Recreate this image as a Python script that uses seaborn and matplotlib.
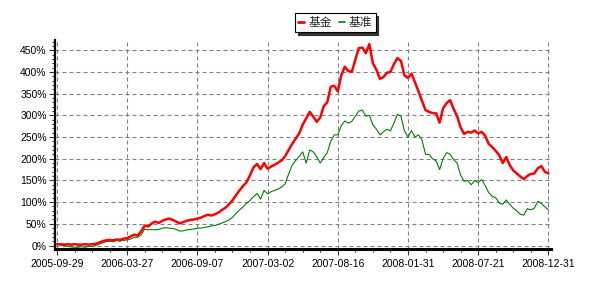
import numpy as np
import pandas as pd
import matplotlib
matplotlib.use("Agg")
import matplotlib.pyplot as plt
from matplotlib.ticker import MultipleLocator, FixedLocator
import seaborn as sns

# ---- data (percent return, sampled along the trading-day axis) ----
fund = [3, 3, 2, 3, 2, 3, 2, 2, 3, 2,
        3, 4, 7, 10, 12, 13, 12, 14, 13, 16,
        17, 21, 25, 23, 33, 46, 44, 51, 55, 52,
        57, 60, 62, 59, 55, 51, 54, 57, 59, 60,
        62, 64, 68, 71, 69, 72, 76, 82, 87, 95,
        104, 116, 127, 137, 146, 162, 180, 188, 176, 190,
        177, 182, 186, 191, 196, 206, 220, 234, 246, 258,
        278, 293, 308, 297, 285, 295, 321, 330, 366, 368,
        355, 392, 412, 402, 400, 428, 455, 456, 443, 464,
        420, 405, 384, 388, 398, 400, 418, 432, 425, 392,
        386, 396, 376, 355, 333, 312, 308, 305, 305, 283,
        316, 328, 335, 315, 298, 272, 257, 262, 260, 265,
        258, 262, 253, 234, 227, 218, 208, 190, 204, 185,
        173, 166, 159, 153, 160, 165, 166, 178, 183, 170,
        166]
bench = [2, 1, 0, -2, -3, -4, -4, -3, -4, -2,
         -2, 0, 3, 6, 9, 10, 9, 11, 10, 12,
         13, 15, 19, 19, 25, 38, 36, 37, 36, 37,
         40, 41, 40, 39, 37, 33, 34, 36, 37, 38,
         40, 40, 42, 43, 45, 46, 49, 52, 55, 59,
         65, 74, 82, 89, 97, 104, 113, 120, 107, 127,
         119, 124, 127, 130, 135, 142, 165, 185, 196, 205,
         216, 190, 220, 216, 205, 190, 203, 214, 240, 255,
         255, 276, 287, 282, 286, 298, 310, 312, 298, 300,
         278, 268, 255, 262, 268, 264, 282, 302, 298, 264,
         250, 265, 250, 255, 243, 210, 210, 200, 195, 175,
         200, 214, 210, 198, 190, 162, 148, 150, 140, 150,
         145, 152, 138, 122, 113, 110, 98, 95, 105, 95,
         86, 80, 72, 70, 85, 82, 86, 102, 97, 89,
         82]
tick_labels = ["2005-09-29", "2006-03-27", "2006-09-07", "2007-03-02",
               "2007-08-16", "2008-01-31", "2008-07-21", "2008-12-31"]
y_ticks = [0, 50, 100, 150, 200, 250, 300, 350, 400, 450]
series_names = ["基金", "基准"]

idx = np.arange(len(fund))
df = pd.DataFrame({"i": idx, "fund": fund, "bench": bench})

sns.set_theme(style="white")
plt.rcParams["font.family"] = ["Liberation Sans", "Noto Sans CJK SC", "DejaVu Sans"]

W, H = 589, 283
fig = plt.figure(figsize=(W / 100, H / 100), dpi=100)
fig.patch.set_facecolor("white")
ax = fig.add_axes([55 / W, (H - 249) / H, (551 - 55) / W, (249 - 40) / H])
ax.set_facecolor("white")

sns.lineplot(data=df, x="i", y="bench", color="#008000", lw=0.8, ax=ax,
             label=series_names[1], zorder=3)
sns.lineplot(data=df, x="i", y="fund", color="#ff0000", lw=1.8, ax=ax,
             label=series_names[0], zorder=4)

n = len(fund) - 1
step = n // 7
ax.set_xlim(-0.57, n + 0.75)
ax.set_ylim(-8, 473.5)

ax.xaxis.set_major_locator(FixedLocator(list(range(0, n + 1, step))))
ax.set_xticklabels(tick_labels)
ax.xaxis.set_minor_locator(MultipleLocator(step / 4))
ax.set_yticks(y_ticks)
ax.set_yticklabels([f"{v}%" for v in y_ticks])
ax.yaxis.set_minor_locator(MultipleLocator(10))

ax.tick_params(axis="both", which="major", direction="out", length=4, width=0.8,
               color="#333333", labelsize=7.5, labelcolor="black")
ax.tick_params(axis="both", which="minor", direction="out", length=2, width=0.8,
               color="#333333")
ax.tick_params(axis="x", which="major", pad=3, bottom=True)
ax.tick_params(axis="x", which="minor", bottom=True)
ax.tick_params(axis="y", which="major", pad=2, left=True)
ax.tick_params(axis="y", which="minor", left=True)

ax.set_xlabel("")
ax.set_ylabel("")
ax.grid(True, which="major", color="#808080", lw=0.8, linestyle=(0, (3.6, 2.7)))
ax.set_axisbelow(True)

for s in ["top", "right"]:
    ax.spines[s].set_visible(False)
ax.spines["left"].set_color("black")
ax.spines["left"].set_linewidth(1.6)
ax.spines["bottom"].set_color("black")
ax.spines["bottom"].set_linewidth(2.2)

hl = [plt.Line2D([], [], color="#ff0000", lw=2.0),
      plt.Line2D([], [], color="#008000", lw=1.2)]
leg = fig.legend(hl, series_names, loc="center",
                 bbox_to_anchor=(335.5 / W, (H - 22.7) / H), ncol=2,
                 frameon=True, fancybox=False, shadow={"color": "#333333", "alpha": 1},
                 edgecolor="black", framealpha=1, borderpad=0.25,
                 handlelength=0.5, handletextpad=0.35, columnspacing=0.6,
                 prop={"family": ["Noto Sans CJK SC"], "size": 8.5})
leg.get_frame().set_linewidth(0.8)
if ax.get_legend() is not None:
    ax.get_legend().remove()

fig.savefig("out.png", dpi=100, facecolor="white")
